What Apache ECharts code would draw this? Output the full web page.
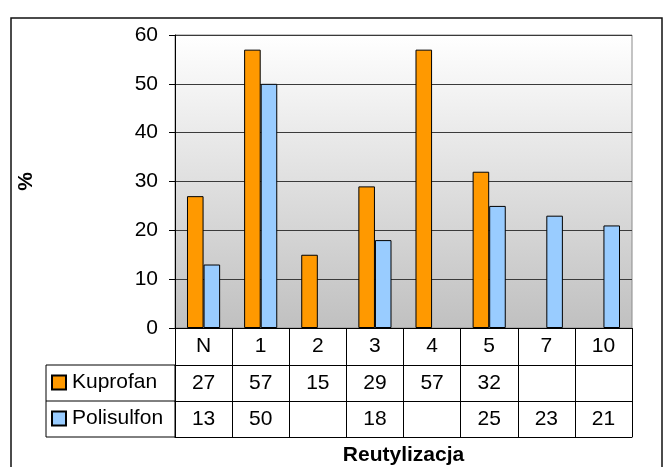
<!DOCTYPE html>
<html>
<head>
<meta charset="utf-8">
<script src="https://cdn.jsdelivr.net/npm/echarts@6/dist/echarts.min.js"></script>
<style>
  html, body { margin: 0; padding: 0; background: #fff; }
  #chart { width: 667px; height: 467px; }
</style>
</head>
<body>
<div id="chart"></div>
<script>
// Reuse cycles and the share (%) for each membrane type
const categories = ['N', '1', '2', '3', '4', '5', '7', '10'];
const kuprofan = [27, 57, 15, 29, 57, 32, null, null];
const polisulfon = [13, 50, null, 18, null, 25, 23, 21];
const yTicks = { min: 0, max: 60, interval: 10 };

const FONT = '"Liberation Sans", Arial, sans-serif';
const FS = 21;
const cellText = v => (v === null || v === undefined ? '' : String(v));

// one axis per table row: header row, Kuprofan row, Polisulfon row, closing line
function tableAxis(offset, tickLen, formatter, extra) {
  return Object.assign({
    type: 'category',
    data: categories,
    gridIndex: 0,
    position: 'bottom',
    offset: offset,
    boundaryGap: true,
    axisLine: { show: true, lineStyle: { color: '#000', width: 1 } },
    axisTick: { show: tickLen > 0, length: tickLen, interval: 0, lineStyle: { color: '#000', width: 1 } },
    axisLabel: {
      show: !!formatter,
      interval: 0,
      margin: 8,
      color: '#000',
      fontFamily: FONT,
      fontSize: FS,
      formatter: formatter || (v => v)
    },
    splitLine: { show: false }
  }, extra || {});
}

const chart = echarts.init(document.getElementById('chart'), null, { renderer: 'canvas' });

chart.setOption({
  animation: false,
  backgroundColor: '#fff',
  grid: {
    left: 175, top: 35, right: 35, bottom: 139,
    outerBoundsMode: 'none',
    containLabel: false,
    show: true,
    borderColor: '#8a8a8a',
    borderWidth: 1,
    backgroundColor: {
      type: 'linear', x: 0, y: 0, x2: 0, y2: 1,
      colorStops: [{ offset: 0, color: '#ffffff' }, { offset: 1, color: '#c0c0c0' }]
    }
  },
  legend: [
    {
      data: ['Kuprofan'], orient: 'horizontal', left: 51, top: 372, padding: 0,
      itemWidth: 14, itemHeight: 14, itemGap: 6,
      icon: 'rect',
      textStyle: { fontFamily: FONT, fontSize: FS, color: '#000', padding: [0, 0, 0, 1] }
    },
    {
      data: ['Polisulfon'], orient: 'horizontal', left: 51, top: 408, padding: 0,
      itemWidth: 14, itemHeight: 14, itemGap: 6,
      icon: 'rect',
      textStyle: { fontFamily: FONT, fontSize: FS, color: '#000', padding: [0, 0, 0, 1] }
    }
  ],
  xAxis: [
    tableAxis(0, 37, v => v),
    tableAxis(37, 36, (v, i) => cellText(kuprofan[i])),
    tableAxis(73, 36, (v, i) => cellText(polisulfon[i])),
    tableAxis(109, 0, null, {
      name: 'Reutylizacja',
      nameLocation: 'middle',
      nameGap: 8,
      nameTextStyle: { fontFamily: FONT, fontSize: FS, fontWeight: 'bold', color: '#000', verticalAlign: 'top' }
    })
  ],
  yAxis: {
    type: 'value',
    min: yTicks.min, max: yTicks.max, interval: yTicks.interval,
    name: '%',
    nameLocation: 'middle',
    nameGap: 138,
    nameRotate: 90,
    nameTextStyle: { fontFamily: FONT, fontSize: FS, fontWeight: 'bold', color: '#000' },
    axisLine: { show: true, lineStyle: { color: '#000', width: 1 } },
    axisTick: { show: true, length: 6, lineStyle: { color: '#000', width: 1 } },
    axisLabel: { margin: 17, color: '#000', fontFamily: FONT, fontSize: FS },
    splitLine: { show: true, lineStyle: { color: '#3a3a3a', width: 1 } }
  },
  series: [
    {
      name: 'Kuprofan', type: 'bar', xAxisIndex: 0,
      data: kuprofan,
      barGap: '0%', barCategoryGap: '42%',
      itemStyle: { color: '#FF9900', borderColor: '#000', borderWidth: 1 }
    },
    {
      name: 'Polisulfon', type: 'bar', xAxisIndex: 0,
      data: polisulfon,
      barGap: '0%', barCategoryGap: '42%',
      itemStyle: { color: '#99CCFF', borderColor: '#000', borderWidth: 1 }
    }
  ],
  graphic: [
    // outer chart frame
    { type: 'rect', shape: { x: 11, y: 18, width: 651, height: 470 }, silent: true,
      style: { fill: null, stroke: '#111', lineWidth: 1.5 }, z: -1 },
    // series-name column of the data table
    { type: 'rect', shape: { x: 46, y: 365, width: 129, height: 72 }, silent: true,
      style: { fill: null, stroke: '#000', lineWidth: 1 } },
    { type: 'line', shape: { x1: 46, y1: 401, x2: 175, y2: 401 }, silent: true,
      style: { stroke: '#000', lineWidth: 1 } }
  ]
});
</script>
</body>
</html>
